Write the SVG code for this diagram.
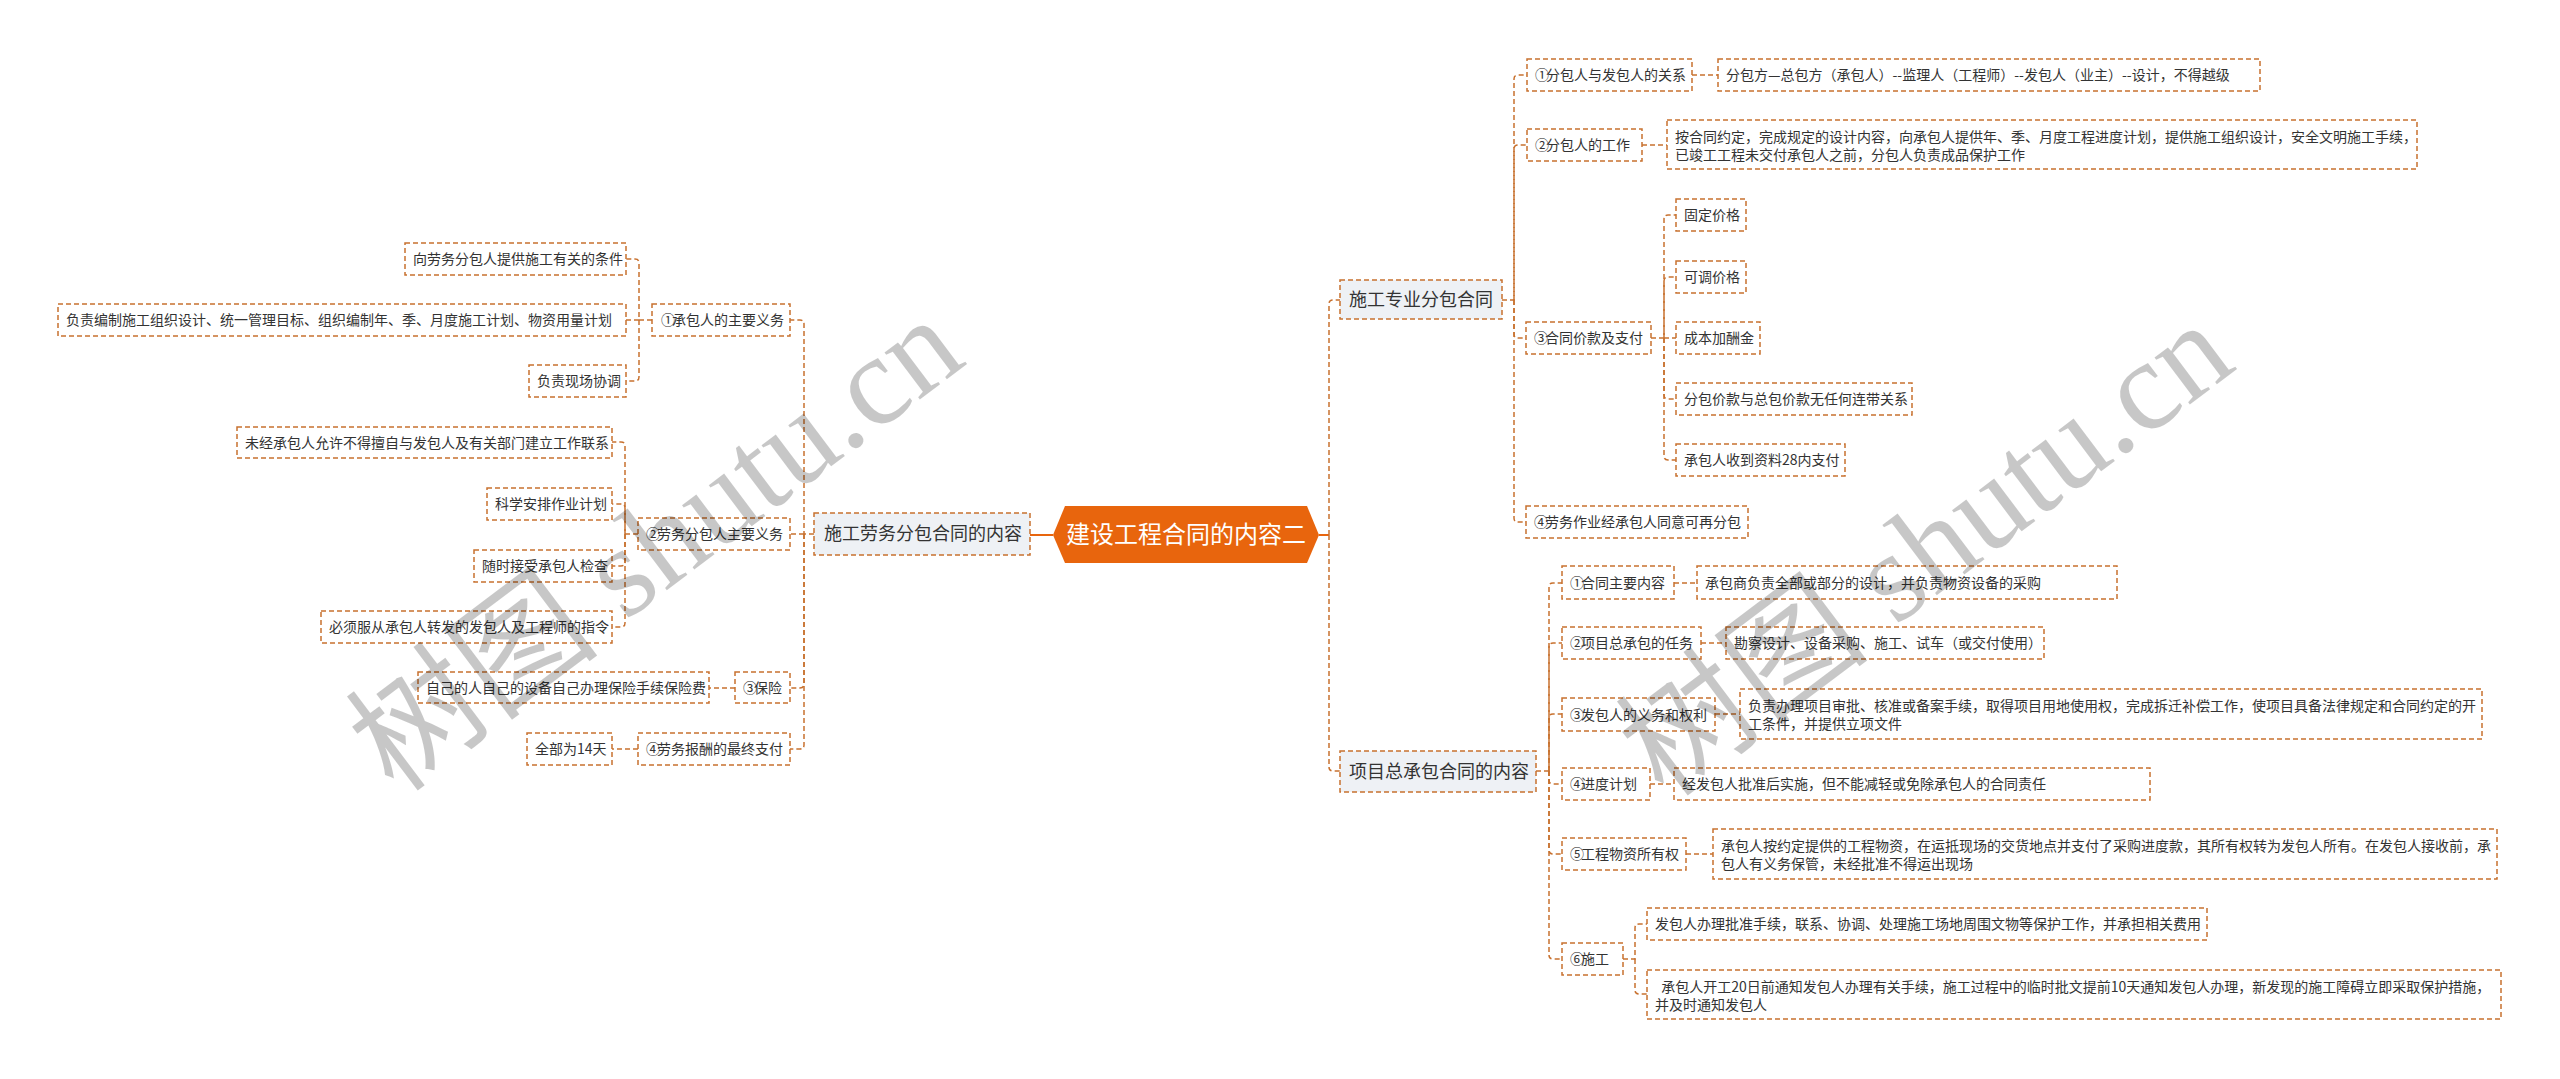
<svg xmlns="http://www.w3.org/2000/svg" width="2560" height="1079" viewBox="0 0 2560 1079">
<style>
.bx{fill:#ffffff;stroke:#c8712f;stroke-width:1.5;stroke-dasharray:5 3}
.b1{fill:#eef1f5;stroke:#c8712f;stroke-width:1.5;stroke-dasharray:5 3}
.t{font-family:"Noto Sans CJK SC","Noto Sans",sans-serif;font-size:14px;fill:#333333}
.t1{font-family:"Noto Sans CJK SC","Noto Sans",sans-serif;font-size:18px;fill:#333333}
.tc{font-family:"Noto Sans CJK SC","Noto Sans",sans-serif;font-size:24px;fill:#ffffff}
.cn path{fill:none;stroke:#c8712f;stroke-width:1.5;stroke-dasharray:5 3}
.wm{font-family:"Liberation Serif","Noto Sans CJK SC",serif;font-size:128px;fill:#000000;fill-opacity:0.22}
</style>
<rect width="2560" height="1079" fill="#ffffff"/>
<g id="connectors" class="cn">
<path d="M1030,535 H1053" style="stroke:#e8650d;stroke-width:2;stroke-dasharray:none"/>
<path d="M1319,535 H1329" style="stroke:#e8650d;stroke-width:2;stroke-dasharray:none"/>
<path d="M1329,535 V304 Q1329,300 1333,300 H1340"/>
<path d="M1329,535 V767 Q1329,771 1333,771 H1340"/>
<path d="M1502,300 H1514 V79 Q1514,75 1518,75 H1527"/>
<path d="M1514,300 V149 Q1514,145 1518,145 H1527"/>
<path d="M1514,300 V334 Q1514,338 1518,338 H1526"/>
<path d="M1514,300 V518 Q1514,522 1518,522 H1526"/>
<path d="M1692,75 H1718"/>
<path d="M1642,145 H1667"/>
<path d="M1651,338 H1664 V219 Q1664,215 1668,215 H1676"/>
<path d="M1664,338 V281 Q1664,277 1668,277 H1676"/>
<path d="M1664,338 H1676"/>
<path d="M1664,338 V395 Q1664,399 1668,399 H1676"/>
<path d="M1664,338 V456 Q1664,460 1668,460 H1676"/>
<path d="M1536,771 H1549 V587 Q1549,583 1553,583 H1562"/>
<path d="M1549,771 V647 Q1549,643 1553,643 H1562"/>
<path d="M1549,771 V718 Q1549,714 1553,714 H1562"/>
<path d="M1549,771 V780 Q1549,784 1553,784 H1562"/>
<path d="M1549,771 V850 Q1549,854 1553,854 H1562"/>
<path d="M1549,771 V955 Q1549,959 1553,959 H1562"/>
<path d="M1674,583 H1697"/>
<path d="M1701,643 H1726"/>
<path d="M1715,714 H1740"/>
<path d="M1650,784 H1674"/>
<path d="M1686,854 H1713"/>
<path d="M1623,959 H1635 V928 Q1635,924 1639,924 H1647"/>
<path d="M1635,959 V990 Q1635,994 1639,994 H1647"/>
<path d="M814,534 H804 V324 Q804,320 800,320 H790"/>
<path d="M804,534 H790"/>
<path d="M804,534 V684 Q804,688 800,688 H790"/>
<path d="M804,534 V745 Q804,749 800,749 H790"/>
<path d="M652,320 H639 V263 Q639,259 635,259 H626"/>
<path d="M639,320 H626"/>
<path d="M639,320 V377 Q639,381 635,381 H626"/>
<path d="M638,534 H625 V446 Q625,442 621,442 H612"/>
<path d="M625,534 V508 Q625,504 621,504 H612"/>
<path d="M625,534 V562 Q625,566 621,566 H612"/>
<path d="M625,534 V623 Q625,627 621,627 H612"/>
<path d="M735,688 H709"/>
<path d="M638,749 H612"/>
</g>
<g id="root">
<polygon points="1053,535 1065,506 1307,506 1319,535 1307,563 1065,563" fill="#e8650d"/>
<text class="tc" x="1186" y="543" text-anchor="middle">建设工程合同的内容二</text>
</g>
<g id="n-left"><rect class="b1" x="814" y="513" width="216" height="42"/><text class="t1" x="824" y="540">施工劳务分包合同的内容</text></g>
<g id="n-r1"><rect class="b1" x="1340" y="280" width="162" height="39"/><text class="t1" x="1349" y="306">施工专业分包合同</text></g>
<g id="n-r2"><rect class="b1" x="1340" y="751" width="196" height="41"/><text class="t1" x="1349" y="778">项目总承包合同的内容</text></g>
<g id="a1"><rect class="bx" x="1527" y="59" width="165" height="32"/><text class="t" x="1535" y="80">①<tspan dx="-3">分包人与发包人的关系</tspan></text></g>
<g id="a1c"><rect class="bx" x="1718" y="59" width="542" height="32"/><text class="t" x="1726" y="80">分包方—总包方（承包人）--监理人（工程师）--发包人（业主）--设计，不得越级</text></g>
<g id="a2"><rect class="bx" x="1527" y="129" width="115" height="32"/><text class="t" x="1535" y="150">②<tspan dx="-3">分包人的工作</tspan></text></g>
<g id="a2c"><rect class="bx" x="1667" y="120" width="750" height="49"/><text class="t" x="1675" y="142">按合同约定，完成规定的设计内容，向承包人提供年、季、月度工程进度计划，提供施工组织设计，安全文明施工手续，</text><text class="t" x="1675" y="160">已竣工工程未交付承包人之前，分包人负责成品保护工作</text></g>
<g id="a3"><rect class="bx" x="1526" y="322" width="125" height="32"/><text class="t" x="1534" y="343">③<tspan dx="-3">合同价款及支付</tspan></text></g>
<g id="a3c1"><rect class="bx" x="1676" y="199" width="70" height="32"/><text class="t" x="1684" y="220">固定价格</text></g>
<g id="a3c2"><rect class="bx" x="1676" y="261" width="70" height="32"/><text class="t" x="1684" y="282">可调价格</text></g>
<g id="a3c3"><rect class="bx" x="1676" y="322" width="84" height="32"/><text class="t" x="1684" y="343">成本加酬金</text></g>
<g id="a3c4"><rect class="bx" x="1676" y="383" width="236" height="32"/><text class="t" x="1684" y="404">分包价款与总包价款无任何连带关系</text></g>
<g id="a3c5"><rect class="bx" x="1676" y="444" width="169" height="32"/><text class="t" x="1684" y="465">承包人收到资料28内支付</text></g>
<g id="a4"><rect class="bx" x="1526" y="506" width="222" height="32"/><text class="t" x="1534" y="527">④<tspan dx="-3">劳务作业经承包人同意可再分包</tspan></text></g>
<g id="b1"><rect class="bx" x="1562" y="566" width="112" height="33"/><text class="t" x="1570" y="588">①<tspan dx="-3">合同主要内容</tspan></text></g>
<g id="b1c"><rect class="bx" x="1697" y="566" width="420" height="33"/><text class="t" x="1705" y="588">承包商负责全部或部分的设计，并负责物资设备的采购</text></g>
<g id="b2"><rect class="bx" x="1562" y="627" width="139" height="32"/><text class="t" x="1570" y="648">②<tspan dx="-3">项目总承包的任务</tspan></text></g>
<g id="b2c"><rect class="bx" x="1726" y="627" width="318" height="32"/><text class="t" x="1734" y="648">勘察设计、设备采购、施工、试车（或交付使用）</text></g>
<g id="b3"><rect class="bx" x="1562" y="698" width="153" height="33"/><text class="t" x="1570" y="720">③<tspan dx="-3">发包人的义务和权利</tspan></text></g>
<g id="b3c"><rect class="bx" x="1740" y="689" width="742" height="50"/><text class="t" x="1748" y="711">负责办理项目审批、核准或备案手续，取得项目用地使用权，完成拆迁补偿工作，使项目具备法律规定和合同约定的开</text><text class="t" x="1748" y="729">工条件，并提供立项文件</text></g>
<g id="b4"><rect class="bx" x="1562" y="768" width="88" height="32"/><text class="t" x="1570" y="789">④<tspan dx="-3">进度计划</tspan></text></g>
<g id="b4c"><rect class="bx" x="1674" y="768" width="476" height="32"/><text class="t" x="1682" y="789">经发包人批准后实施，但不能减轻或免除承包人的合同责任</text></g>
<g id="b5"><rect class="bx" x="1562" y="838" width="124" height="32"/><text class="t" x="1570" y="859">⑤<tspan dx="-3">工程物资所有权</tspan></text></g>
<g id="b5c"><rect class="bx" x="1713" y="829" width="784" height="50"/><text class="t" x="1721" y="851">承包人按约定提供的工程物资，在运抵现场的交货地点并支付了采购进度款，其所有权转为发包人所有。在发包人接收前，承</text><text class="t" x="1721" y="869">包人有义务保管，未经批准不得运出现场</text></g>
<g id="b6"><rect class="bx" x="1562" y="943" width="61" height="32"/><text class="t" x="1570" y="964">⑥<tspan dx="-3">施工</tspan></text></g>
<g id="b6c1"><rect class="bx" x="1647" y="908" width="560" height="32"/><text class="t" x="1655" y="929">发包人办理批准手续，联系、协调、处理施工场地周围文物等保护工作，并承担相关费用</text></g>
<g id="b6c2"><rect class="bx" x="1647" y="970" width="854" height="49"/><text class="t" x="1655" y="992" xml:space="preserve">  承包人开工20日前通知发包人办理有关手续，施工过程中的临时批文提前10天通知发包人办理，新发现的施工障碍立即采取保护措施，</text><text class="t" x="1655" y="1010">并及时通知发包人</text></g>
<g id="c1"><rect class="bx" x="652" y="304" width="138" height="32"/><text class="t" x="661" y="325">①<tspan dx="-3">承包人的主要义务</tspan></text></g>
<g id="c1a"><rect class="bx" x="405" y="243" width="221" height="32"/><text class="t" x="413" y="264">向劳务分包人提供施工有关的条件</text></g>
<g id="c1b"><rect class="bx" x="58" y="304" width="568" height="32"/><text class="t" x="66" y="325">负责编制施工组织设计、统一管理目标、组织编制年、季、月度施工计划、物资用量计划</text></g>
<g id="c1c"><rect class="bx" x="529" y="365" width="97" height="32"/><text class="t" x="537" y="386">负责现场协调</text></g>
<g id="c2"><rect class="bx" x="638" y="518" width="152" height="32"/><text class="t" x="646" y="539">②<tspan dx="-3">劳务分包人主要义务</tspan></text></g>
<g id="c2a"><rect class="bx" x="237" y="427" width="375" height="31"/><text class="t" x="245" y="448">未经承包人允许不得擅自与发包人及有关部门建立工作联系</text></g>
<g id="c2b"><rect class="bx" x="487" y="488" width="125" height="32"/><text class="t" x="495" y="509">科学安排作业计划</text></g>
<g id="c2c"><rect class="bx" x="474" y="550" width="138" height="32"/><text class="t" x="482" y="571">随时接受承包人检查</text></g>
<g id="c2d"><rect class="bx" x="321" y="611" width="291" height="32"/><text class="t" x="329" y="632">必须服从承包人转发的发包人及工程师的指令</text></g>
<g id="c3"><rect class="bx" x="735" y="672" width="55" height="31"/><text class="t" x="743" y="693">③<tspan dx="-3">保险</tspan></text></g>
<g id="c3a"><rect class="bx" x="418" y="672" width="291" height="31"/><text class="t" x="426" y="693">自己的人自己的设备自己办理保险手续保险费</text></g>
<g id="c4"><rect class="bx" x="638" y="733" width="152" height="32"/><text class="t" x="646" y="754">④<tspan dx="-3">劳务报酬的最终支付</tspan></text></g>
<g id="c4a"><rect class="bx" x="527" y="733" width="85" height="32"/><text class="t" x="535" y="754">全部为14天</text></g>
<g id="watermark">
<text class="wm" x="395" y="795" transform="rotate(-37 395 795)">树图 shutu.cn</text>
<text class="wm" x="1665" y="800" transform="rotate(-37 1665 800)">树图 shutu.cn</text>
</g>
</svg>
